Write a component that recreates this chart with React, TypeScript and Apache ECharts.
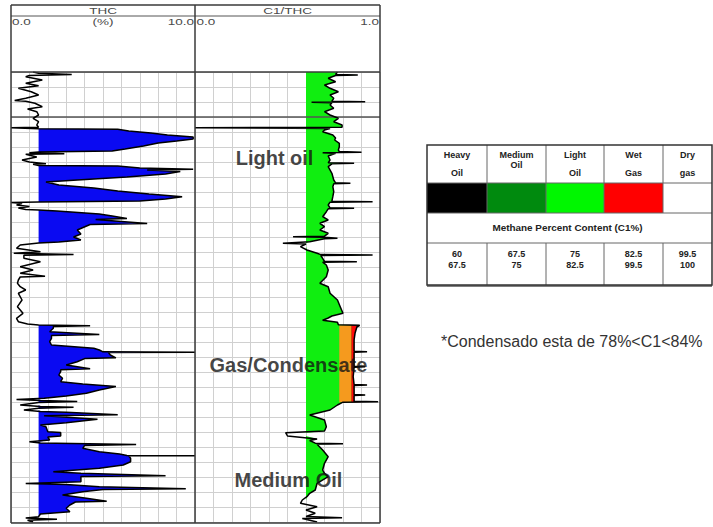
import { useEffect, useRef } from 'react';
import * as echarts from 'echarts';

// ---------- DATA ----------
// Track titles and scale (tick) labels
const thcTitle = 'THC';
const thcUnit = '(%)';
const c1Title = 'C1/THC';
const thcTicks = ['0.0', '10.0'];
const c1Ticks = ['0.0', '1.0'];

// THC log: [depth, THC %]
const thcLog: [number, number][] = [
  [0, 1.2], [1.3, 1.5], [2.6, 3.3], [3.4, 1.0], [4.7, 0.8], [8, 1.7], [11.3, 0.8], [13.7, 1.5], [16.3, 0.4],
  [19.7, 1.1], [23, 1.5], [26.3, 0.8], [28.6, 0.2], [29.3, 0.8], [31.3, 1.3], [34.7, 1.7], [37, 0.9], [39.7, 1.4],
  [43, 1.5], [46.3, 1.2], [49.7, 1.5], [53, 1.4], [55.3, 1.5], [55.7, 0], [56.3, 0], [56.8, 1.5],
  [57.3, 5.8], [59, 6.4], [61, 7.6], [63, 8.5], [65, 9.9], [67, 9.9], [69, 9.0], [71, 8.0], [74, 7.2], [77, 6.2],
  [79, 5.5], [80, 1.5],
  [80.7, 1.0], [81.7, 2.9], [82.3, 0.8], [85, 1.4], [88, 0.6], [90, 1.0], [91.7, 1.9], [92.3, 1.2], [93.5, 1.5],
  [94, 5.8], [96, 7.0], [97.3, 9.9], [98, 7.4], [99.5, 9.2], [102, 8.4], [105, 6.3], [108, 3.6], [110, 1.9],
  [113, 2.6], [116, 4.5], [119, 5.8], [122, 7.5], [124.7, 9.3], [127, 8.4], [129, 7.0], [130, 1.5], [130.5, 0],
  [131, 0], [131.5, 0.6],
  [133, 0.3], [134.5, 1.0], [136, 0.4], [137.5, 0.8], [138, 1.5],
  [139, 2.5], [142, 4.8], [144, 5.5], [146.5, 6.3], [147.5, 4.6], [151.5, 7.4], [152.5, 4.3], [158, 3.6],
  [162, 3.8], [165, 3.4], [168, 3.8], [170, 2.6], [171, 1.5],
  [173, 0.5], [176.3, 0.3], [179.7, 1.6], [181.3, 0.15], [182.6, 3.4], [183.3, 0.7], [186.3, 0.7], [189.7, 1.6],
  [194.7, 0.5], [198, 1.2], [201.3, 0.5], [204.3, 1.85], [205, 0.5], [208, 0.4], [211.3, 0.35], [214.7, 0.5],
  [218, 0.8], [221.3, 0.4], [228, 0.6], [234.7, 0.35], [241.3, 0.65], [246.3, 0.3], [249.7, 0.4], [252, 0.9],
  [253, 1.5],
  [253.7, 4.3], [254.5, 2.3], [256.3, 2.3], [259.7, 2.1], [262.5, 4.8], [263.5, 2.2], [266.3, 2.2], [269.7, 2.1],
  [273, 2.2], [276.3, 4.5], [278, 4.8], [279.8, 5.0], [280.2, 10], [280.6, 5.3], [283, 5.4], [285.8, 5.7],
  [286.6, 4.0], [289.7, 3.6], [293, 3.0], [296.8, 4.3], [297.8, 2.7], [299.7, 2.7], [303, 2.6], [306.3, 2.8],
  [309.7, 2.7], [312, 3.9], [314.5, 5.7], [318, 4.8], [321.3, 4.1], [324, 3.0], [326.3, 1.8], [327.5, 0.3],
  [328.5, 1.6], [329.5, 3.6], [330.5, 1.5], [333, 0.5], [334.5, 1.6], [335.3, 3.4], [336.3, 1.5], [338, 0.7],
  [339.5, 1.6], [340.3, 3.0], [342.8, 5.8], [343.8, 1.8], [347.3, 4.7], [350.7, 3.0], [353, 1.6], [354.7, 1.9],
  [359.7, 2.0], [360.5, 2.7], [364, 2.7], [365, 2.0], [368, 2.1], [369.8, 1.0], [371, 1.6], [372.6, 6.8],
  [373.4, 4.0], [376.3, 3.9], [379.7, 4.8], [382, 5.9], [383.4, 6.3], [383.7, 10], [384, 6.4], [386.3, 6.5],
  [389.7, 6.5], [393, 6.1], [396.3, 4.8], [399.7, 2.3], [401.3, 3.8], [403.7, 8.4], [404.5, 3.8], [406.3, 3.8],
  [409.7, 3.8], [411.6, 0.8], [412.5, 3.0], [414.7, 4.8], [416.7, 9.5], [417.5, 5.0], [419.7, 3.9], [423, 2.8],
  [426.3, 4.1], [429.3, 5.2], [430, 3.5], [433, 3.2], [436.3, 3.0], [439.7, 3.2], [442, 1.6], [444.7, 1.5],
  [446, 0.8], [447.3, 2.5], [448.2, 0.9], [450, 1.2],
];

// C1/THC log: [depth, ratio]
const c1Log: [number, number][] = [
  [0, 0.77], [2.4, 0.76], [2.9, 0.88], [3.5, 0.76], [6.3, 0.72], [9.7, 0.76], [13, 0.70], [16.3, 0.73],
  [19.7, 0.775], [23, 0.73], [26.3, 0.75], [29.2, 0.74], [29.7, 0.92], [30.2, 0.63], [30.8, 0.74], [33, 0.73],
  [36.3, 0.75], [39.7, 0.70], [43, 0.73], [46.3, 0.775], [49.7, 0.75], [53, 0.795], [55.3, 0.795], [55.7, 0],
  [56.1, 0], [56.5, 0.73], [58, 0.70], [59.7, 0.69], [63, 0.745], [66, 0.76], [68, 0.755], [71.3, 0.78],
  [74.7, 0.78], [78, 0.775], [79.6, 0.78], [80.2, 0.9], [80.8, 0.69], [81.4, 0.76], [84, 0.72], [88, 0.73],
  [90.8, 0.72], [91.3, 0.86], [91.8, 0.74], [94.7, 0.72], [101.3, 0.74], [108, 0.75], [110.8, 0.76], [111.3, 0.84],
  [111.8, 0.75], [114.7, 0.745], [119.7, 0.75], [124.7, 0.745], [129.2, 0.74], [129.7, 0.96], [130.2, 0.73],
  [133, 0.72], [135.8, 0.73], [136.3, 0.86], [136.8, 0.72], [139.7, 0.71], [144.7, 0.69], [148, 0.72],
  [151.3, 0.675], [154.7, 0.70], [158, 0.675], [161.3, 0.72], [164.2, 0.70], [164.7, 0.53], [165.2, 0.70],
  [166.2, 0.77], [166.8, 0.70], [169.8, 0.62], [171.3, 0.475], [172, 0.60], [174.7, 0.57], [178, 0.605],
  [181.3, 0.66], [182.6, 0.68], [183, 0.96], [183.5, 0.68], [186.3, 0.69], [189.3, 0.70], [189.7, 0.875],
  [190.2, 0.69], [193, 0.71], [198, 0.72], [204.7, 0.71], [211.3, 0.675], [214.7, 0.72], [221.3, 0.73],
  [228, 0.77], [234.7, 0.785], [241.3, 0.80], [244, 0.74], [246, 0.72], [248.3, 0.69], [250.3, 0.77],
  [252.7, 0.775], [253.3, 0.89], [255, 0.875], [261.3, 0.865], [268, 0.86], [279.2, 0.86], [279.7, 0.93],
  [280.2, 0.86], [288, 0.86], [294.2, 0.86], [294.7, 0.92], [295.2, 0.86], [304.7, 0.855], [312.5, 0.86],
  [313, 0.93], [313.5, 0.86], [318, 0.86], [322.5, 0.86], [323, 0.92], [323.5, 0.86], [329.2, 0.86],
  [329.7, 0.99], [330.2, 0.80], [333, 0.77], [338, 0.73], [343, 0.62], [348, 0.70], [354.7, 0.71], [359, 0.70],
  [360.7, 0.49], [364, 0.50], [367, 0.66], [368.5, 0.62], [371.2, 0.65], [371.7, 0.80], [372.2, 0.66],
  [378, 0.69], [384.7, 0.72], [391.3, 0.70], [398, 0.69], [401.3, 0.70], [404.7, 0.72], [411.3, 0.66],
  [418, 0.65], [421.3, 0.62], [424.7, 0.605], [428, 0.58], [431.3, 0.57], [434.7, 0.66], [438, 0.60],
  [441.3, 0.65], [444.5, 0.60], [445.7, 0.795], [446.6, 0.58], [450, 0.66],
];

// Shaded intervals: [depthTop, depthBottom]
const thcShadeZones: [number, number][] = [[56.8, 80], [93.5, 130], [138, 171], [253, 444.7]];
const thcShadeBase = 1.5;
const lightOilZones: [number, number][] = [[0, 432]];
const condensateZones: [number, number][] = [[253.3, 330.2]];
const c1Bands = { base: 0.6, condensate: 0.78, wetGas: 0.845 };
const depthMarker = 45;

// Zone annotations: [text, depth, centre C1/THC value]
const zoneLabels: [string, number, number][] = [
  ['Light oil', 86, 0.43],
  ['Gas/Condensate', 293, 0.505],
  ['Medium Oil', 408, 0.505],
];

// Fluid table
const fluidTop = ['Heavy', 'Medium', 'Light', 'Wet', 'Dry'];
const fluidBottom = ['Oil', 'Oil', 'Oil', 'Gas', 'gas'];
const fluidColors = ['#000000', '#008a0e', '#00f700', '#ff0000', '#ffffff'];
const methaneTitle = 'Methane Percent Content (C1%)';
const methaneLow = ['60', '67.5', '75', '82.5', '99.5'];
const methaneHigh = ['67.5', '75', '82.5', '99.5', '100'];
const footnote = '*Condensado esta de 78%<C1<84%';

// ---------- LAYOUT ----------
const FONT = '"Liberation Sans", Arial, sans-serif';
const T1 = { left: 11, width: 184 };
const T2 = { left: 195, width: 185 };
const GTOP = 72;
const GH = 450;
const FRAME_TOP = 5;
const FRAME_BOTTOM = 523;
const TAB = { x0: 427, x1: 712, cols: [427, 487, 546, 604, 663, 712], rows: [145, 183, 213, 243, 285] };

function bandSeries(name: string, curve: [number, number][], zones: [number, number][], lo: number, hi: number,
  color: string, axis: number) {
  return {
    type: 'custom',
    name,
    xAxisIndex: axis,
    yAxisIndex: axis,
    silent: true,
    encode: { x: 0, y: 1 },
    data: zones.map(([a, b]) => [lo, a, b]),
    renderItem: (_p: any, api: any) => {
      const d0 = api.value(1);
      const d1 = api.value(2);
      const pts: number[][] = [api.coord([lo, d0])];
      for (const [d, v] of curve) {
        if (d >= d0 && d <= d1) pts.push(api.coord([Math.min(Math.max(v, lo), hi), d]));
      }
      pts.push(api.coord([lo, d1]));
      return { type: 'polygon', shape: { points: pts }, style: { fill: color } };
    },
  };
}

function buildOption() {
  const gridLine = { show: true, lineStyle: { color: '#d0d0d0', width: 1 } };
  const yAxisBase = {
    type: 'value', min: 0, max: GH, interval: 15, inverse: true,
    axisLabel: { show: false }, axisLine: { show: false }, axisTick: { show: false }, splitLine: gridLine,
  };

  const lineStroke = '#3a3a3a';
  const graphics: any[] = [];
  const hLine = (x1: number, x2: number, y: number, stroke: string, w: number) =>
    graphics.push({ type: 'line', shape: { x1, y1: y, x2, y2: y }, style: { stroke, lineWidth: w }, z: 50 });
  const vLine = (x: number, y1: number, y2: number, stroke: string, w: number) =>
    graphics.push({ type: 'line', shape: { x1: x, y1, x2: x, y2 }, style: { stroke, lineWidth: w }, z: 50 });
  const text = (t: string, x: number, y: number, font: string, fill: string, align = 'center', sx = 1) =>
    graphics.push({
      type: 'text', x, y, z: 60, scaleX: sx,
      style: { text: t, font, fill, textAlign: align, textVerticalAlign: 'middle' },
    });

  // log frame and header
  const xR = T2.left + T2.width;
  hLine(T1.left, xR, FRAME_TOP, lineStroke, 1.5);
  hLine(T1.left, xR, 16, '#555', 1);
  hLine(T1.left, xR, GTOP, lineStroke, 1.5);
  hLine(T1.left, xR, FRAME_BOTTOM, lineStroke, 1.5);
  vLine(T1.left, FRAME_TOP, FRAME_BOTTOM, lineStroke, 1.5);
  vLine(T2.left, FRAME_TOP, FRAME_BOTTOM, lineStroke, 1.5);
  vLine(xR, FRAME_TOP, FRAME_BOTTOM, lineStroke, 1.5);
  const hdr = `9px ${FONT}`;
  const hdrCol = '#4a4a4a';
  text(thcTitle, T1.left + T1.width / 2, 11, hdr, hdrCol, 'center', 1.5);
  text(thcUnit, T1.left + T1.width / 2, 22, hdr, hdrCol, 'center', 1.5);
  text(c1Title, T2.left + T2.width / 2, 11, hdr, hdrCol, 'center', 1.5);
  text(thcTicks[0], T1.left + 1, 22, hdr, hdrCol, 'left', 1.5);
  text(thcTicks[1], T1.left + T1.width - 1, 22, hdr, hdrCol, 'right', 1.5);
  text(c1Ticks[0], T2.left + 1.5, 22, hdr, hdrCol, 'left', 1.5);
  text(c1Ticks[1], T2.left + T2.width - 1, 22, hdr, hdrCol, 'right', 1.5);

  // fluid table
  const c = TAB.cols;
  const r = TAB.rows;
  for (let i = 0; i < 5; i++) {
    graphics.push({
      type: 'rect', shape: { x: c[i], y: r[1], width: c[i + 1] - c[i], height: r[2] - r[1] },
      style: { fill: fluidColors[i] }, z: 40,
    });
    const cx = (c[i] + c[i + 1]) / 2;
    text(fluidTop[i], cx, 155, `bold 9px ${FONT}`, '#222');
    text(fluidBottom[i], cx, i === 1 ? 165 : 173, `bold 9px ${FONT}`, '#222');
    text(methaneLow[i], cx, 254, `bold 9px ${FONT}`, '#222');
    text(methaneHigh[i], cx, 265, `bold 9px ${FONT}`, '#222');
  }
  text(methaneTitle, (TAB.x0 + TAB.x1) / 2 - 2, 228, `bold 9px ${FONT}`, '#222', 'center', 1.1);
  for (let i = 1; i < 5; i++) {
    vLine(c[i], r[0], r[2], '#666', 1);
    vLine(c[i], r[3], r[4], '#666', 1);
  }
  hLine(TAB.x0, TAB.x1, r[1], '#666', 1);
  hLine(TAB.x0, TAB.x1, r[2], '#666', 1);
  hLine(TAB.x0, TAB.x1, r[3], '#666', 1);
  graphics.push({
    type: 'rect', shape: { x: TAB.x0, y: r[0], width: TAB.x1 - TAB.x0, height: r[4] - r[0] },
    style: { fill: 'none', stroke: '#333', lineWidth: 1.5 }, z: 51,
  });
  hLine(TAB.x0, TAB.x1, r[4] + 1, '#555', 1.5);
  text(footnote, 441, 341, `16px ${FONT}`, '#333', 'left');

  const series: any[] = [
    bandSeries('THC shade', thcLog, thcShadeZones, thcShadeBase, 100, '#0a0af2', 0),
    bandSeries('Light oil', c1Log, lightOilZones, c1Bands.base, 10, '#10ee10', 1),
    bandSeries('Condensate', c1Log, condensateZones, c1Bands.condensate, c1Bands.wetGas, '#f59a1e', 1),
    bandSeries('Wet gas', c1Log, condensateZones, c1Bands.wetGas, 10, '#ff0a0a', 1),
    {
      type: 'line', name: 'THC', xAxisIndex: 0, yAxisIndex: 0, silent: true, showSymbol: false,
      data: thcLog.map(([d, v]) => [v, d]), lineStyle: { color: '#000', width: 1.5 }, z: 5,
      markLine: {
        silent: true, symbol: 'none', label: { show: false },
        lineStyle: { color: '#555', width: 1.5, type: 'solid' }, data: [{ yAxis: depthMarker }],
      },
    },
    {
      type: 'line', name: 'C1/THC', xAxisIndex: 1, yAxisIndex: 1, silent: true, showSymbol: false,
      data: c1Log.map(([d, v]) => [v, d]), lineStyle: { color: '#000', width: 1.5 }, z: 5,
      markLine: {
        silent: true, symbol: 'none', label: { show: false },
        lineStyle: { color: '#555', width: 1.5, type: 'solid' }, data: [{ yAxis: depthMarker }],
      },
    },
    {
      type: 'scatter', name: 'zones', xAxisIndex: 1, yAxisIndex: 1, silent: true, symbolSize: 0, z: 20,
      data: zoneLabels.map(([t, d, v]) => ({ value: [v, d], name: t })),
      label: {
        show: true, position: 'inside', formatter: (p: any) => p.name,
        fontFamily: FONT, fontWeight: 'bold', fontSize: 20, color: '#141414',
      },
    },
  ];

  return {
    animation: false,
    backgroundColor: '#ffffff',
    grid: [
      { left: T1.left, top: GTOP, width: T1.width, height: GH },
      { left: T2.left, top: GTOP, width: T2.width, height: GH },
    ],
    xAxis: [
      {
        type: 'value', gridIndex: 0, min: 0, max: 10, interval: 1, position: 'top',
        axisLine: { show: false }, axisTick: { show: false }, splitLine: gridLine, axisLabel: { show: false },
      },
      {
        type: 'value', gridIndex: 1, min: 0, max: 1, interval: 0.1, position: 'top',
        axisLine: { show: false }, axisTick: { show: false }, splitLine: gridLine, axisLabel: { show: false },
      },
    ],
    yAxis: [
      { ...yAxisBase, gridIndex: 0 },
      { ...yAxisBase, gridIndex: 1 },
    ],
    series,
    graphic: graphics,
  };
}

export default function App() {
  const ref = useRef<HTMLDivElement>(null);
  useEffect(() => {
    if (!ref.current) return;
    const chart = echarts.init(ref.current, null, { renderer: 'svg' });
    chart.setOption(buildOption() as any);
    return () => chart.dispose();
  }, []);
  return (
    <div
      ref={ref}
      style={{ position: 'fixed', left: 0, top: 0, width: 713, height: 527, background: '#fff' }}
    />
  );
}
